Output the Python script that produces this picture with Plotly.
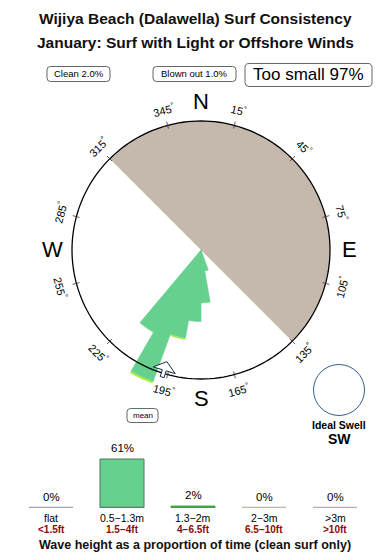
import math
import plotly.graph_objects as go

# ---------------- data ----------------
title_lines = ["Wijiya Beach (Dalawella) Surf Consistency",
               "January: Surf with Light or Offshore Winds"]
clean_pct = 2.0
blown_pct = 1.0
small_pct = 97

# swell rose (directions the swell comes from, 10 degree bins)
rose_dirs = [165, 175, 185, 195, 205, 215]
rose_main = [0.165, 0.41, 0.555, 0.695, 1.085, 0.737]     # 0.5-1.3m share
rose_big = [0.0, 0.0, 0.0, 0.012, 0.015, 0.0]             # 1.3-2m share
offshore_center = 45      # grey wind sector centre
offshore_width = 180
mean_dir = 197
ideal_swell = "SW"

compass_ticks = [15, 45, 75, 105, 135, 165, 195, 225, 255, 285, 315, 345]
cardinals = ["N", "E", "S", "W"]
cardinal_dirs = [0, 90, 180, 270]

height_cats = ["flat", "0.5\u22121.3m", "1.3\u22122m", "2\u22123m", ">3m"]
height_ft = ["<1.5ft", "1.5\u22124ft", "4\u22126.5ft", "6.5\u221210ft", ">10ft"]
height_pct = [0, 61, 2, 0, 0]
height_colors = ["#a0a0bc", "#66d08e", "#4cc04c", "#b0b89e", "#c0a6a6"]
height_edges = ["#a0a0bc", "#4c7a5c", "#3a9a3a", "#b0b89e", "#c0a6a6"]

# ---------------- geometry ----------------
W, H = 390, 560
CX, CY = 201, 310          # compass centre, px from left / bottom
RPX = 129                  # px per radial unit (unit circle)
RMAX = 1.2

def to_paper(bearing, r):
    b = math.radians(bearing)
    return ((CX + r * RPX * math.sin(b)) / W, (CY + r * RPX * math.cos(b)) / H)

fig = go.Figure()

polar_dom_x = [(CX - RMAX * RPX) / W, (CX + RMAX * RPX) / W]
polar_dom_y = [(CY - RMAX * RPX) / H, (CY + RMAX * RPX) / H]

# grey sector
fig.add_trace(go.Barpolar(r=[1], theta=[offshore_center], width=[offshore_width],
                          marker=dict(color="#c5b9ad", line=dict(width=0)),
                          hoverinfo="skip", showlegend=False))
# swell rose
fig.add_trace(go.Barpolar(r=rose_main, theta=rose_dirs, width=[10] * len(rose_dirs),
                          marker=dict(color="#66d08e", line=dict(color="#66d08e", width=0.6)),
                          hoverinfo="skip", showlegend=False))
fig.add_trace(go.Barpolar(r=rose_big, theta=rose_dirs, width=[10] * len(rose_dirs),
                          base=rose_main,
                          marker=dict(color="#9ef040", line=dict(width=0)),
                          hoverinfo="skip", showlegend=False))
# circle
circ_t = list(range(0, 361, 2))
fig.add_trace(go.Scatterpolar(r=[1] * len(circ_t), theta=circ_t, mode="lines",
                              line=dict(color="black", width=1.3),
                              hoverinfo="skip", showlegend=False))
# tick marks
for t in compass_ticks:
    fig.add_trace(go.Scatterpolar(r=[0.975, 1.03], theta=[t, t], mode="lines",
                                  line=dict(color="#333333", width=0.8),
                                  hoverinfo="skip", showlegend=False))

# mean arrow (outline arrow pointing to centre)
def arrow_pts(b, pts):
    out_r, out_t = [], []
    br = math.radians(b)
    ux, uy = math.sin(br), math.cos(br)        # outward unit
    px_, py_ = math.cos(br), -math.sin(br)     # perpendicular
    for rad, lat in pts:
        x = rad * RPX * ux + lat * px_
        y = rad * RPX * uy + lat * py_
        out_r.append(math.hypot(x, y) / RPX)
        out_t.append(math.degrees(math.atan2(x, y)) % 360)
    return out_r, out_t

ar_r, ar_t = arrow_pts(mean_dir, [(0.905, 0), (0.975, 11.5), (0.975, 2), (1.03, 2),
                                  (1.03, -2), (0.975, -2), (0.975, -11.5), (0.905, 0)])
fig.add_trace(go.Scatterpolar(r=ar_r, theta=ar_t, mode="lines", fill="toself",
                              fillcolor="white", line=dict(color="#1a2a44", width=1),
                              hoverinfo="skip", showlegend=False))

fig.update_layout(polar=dict(
    domain=dict(x=polar_dom_x, y=polar_dom_y),
    bgcolor="rgba(0,0,0,0)",
    barmode="overlay",
    radialaxis=dict(range=[0, RMAX], visible=False),
    angularaxis=dict(direction="clockwise", rotation=90, visible=False),
))

ann = []
shapes = []
def add_ann(**kw):
    kw.setdefault("showarrow", False)
    kw.setdefault("xanchor", "center")
    kw.setdefault("yanchor", "middle")
    kw.setdefault("xref", "paper")
    kw.setdefault("yref", "paper")
    ann.append(kw)

def rounded_box(x0, y0, x1, y1, rad=3.5):
    # px from top-left -> paper path with rounded corners
    def P(x, y):
        return f"{x / W:.5f},{1 - y / H:.5f}"
    path = (f"M {P(x0 + rad, y0)} L {P(x1 - rad, y0)} Q {P(x1, y0)} {P(x1, y0 + rad)} "
            f"L {P(x1, y1 - rad)} Q {P(x1, y1)} {P(x1 - rad, y1)} "
            f"L {P(x0 + rad, y1)} Q {P(x0, y1)} {P(x0, y1 - rad)} "
            f"L {P(x0, y0 + rad)} Q {P(x0, y0)} {P(x0 + rad, y0)} Z")
    shapes.append(dict(type="path", xref="paper", yref="paper", path=path,
                       line=dict(color="#555", width=0.9), fillcolor="white", layer="above"))

# tick labels
for t in compass_ticks:
    x, y = to_paper(t, 1.125)
    ang = t if (t <= 90 or t >= 270) else t - 180
    if ang > 180:
        ang -= 360
    add_ann(x=x, y=y, text=f"{t}<sup>\u00b0</sup>", textangle=ang,
            font=dict(size=11, color="black"))
for c, d in zip(cardinals, cardinal_dirs):
    x, y = to_paper(d, 1.155)
    add_ann(x=x, y=y, text=c, font=dict(size=22, color="black"))

# title
add_ann(x=0.5, y=1 - 19 / H, text=f"<b>{title_lines[0]}</b>", font=dict(size=15.5, color="#111"))
add_ann(x=0.5, y=1 - 43 / H, text=f"<b>{title_lines[1]}</b>", font=dict(size=15.5, color="#111"))

# summary boxes
rounded_box(47, 66.5, 110, 81.5)
add_ann(x=78.5 / W, y=1 - 74 / H, text=f"Clean {clean_pct:.1f}%", font=dict(size=9.5, color="black"))
rounded_box(153, 66.5, 236, 81.5)
add_ann(x=194.5 / W, y=1 - 74 / H, text=f"Blown out {blown_pct:.1f}%", font=dict(size=9.5, color="black"))
rounded_box(245, 63.5, 372, 86.5, rad=4)
add_ann(x=308.5 / W, y=1 - 75 / H, text=f"Too small {small_pct}%", font=dict(size=17, color="black"))
# mean label
rounded_box(127, 408.5, 158, 422.5)
add_ann(x=142.5 / W, y=1 - 415.5 / H, text="mean", font=dict(size=8, color="black"))

# ideal swell
ISX, ISY, ISR = 339, 560 - 390, 25.5
shapes.append(dict(type="circle", xref="paper", yref="paper",
                   x0=(ISX - ISR) / W, x1=(ISX + ISR) / W,
                   y0=(ISY - ISR) / H, y1=(ISY + ISR) / H,
                   line=dict(color="#3a5f8a", width=1)))
add_ann(x=ISX / W, y=1 - 425 / H, text="<b>Ideal Swell</b>", font=dict(size=10.5, color="black"))
add_ann(x=ISX / W, y=1 - 439 / H, text=f"<b>{ideal_swell}</b>", font=dict(size=14, color="black"))

# ---------------- height histogram ----------------
BASE = 52.3
YSCALE = 0.798   # px per percent
YR = 70
ax_dom_x = [15.5 / W, 370.5 / W]
ax_dom_y = [BASE / H, (BASE + YR * YSCALE) / H]
idx = list(range(len(height_cats)))
fig.add_trace(go.Bar(x=idx, y=height_pct, width=0.62, xaxis="x2", yaxis="y2",
                     marker=dict(color=height_colors, line=dict(color=height_edges, width=1)),
                     hoverinfo="skip", showlegend=False))
for i, v in enumerate(height_pct):
    shapes.append(dict(type="line", xref="x2", yref="y2", x0=i - 0.31, x1=i + 0.31,
                       y0=0, y1=0, line=dict(color=height_edges[i] if v else height_colors[i], width=2)))
    add_ann(x=i, y=v, xref="x2", yref="y2", yanchor="bottom", yshift=3,
            text=f"{v}%", font=dict(size=11.5, color="black"))
    add_ann(x=i, y=1 - 518 / H, xref="x2", text=height_cats[i], font=dict(size=10.5, color="black"))
    ft = height_ft[i].replace("<", "&lt;").replace(">", "&gt;")
    add_ann(x=i, y=1 - 529.5 / H, xref="x2", text=f"<b>{ft}</b>", font=dict(size=10, color="#8b0a0a"))
add_ann(x=195 / W, y=1 - 545 / H, text="<b>Wave height as a proportion of time (clean surf only)</b>",
        font=dict(size=12.5, color="#111"))

fig.update_layout(
    width=W, height=H, margin=dict(l=0, r=0, t=0, b=0),
    paper_bgcolor="white", plot_bgcolor="white",
    font=dict(family="Liberation Sans, Arial, sans-serif"),
    xaxis2=dict(domain=ax_dom_x, range=[-0.5, 4.5], visible=False, anchor="y2"),
    yaxis2=dict(domain=ax_dom_y, range=[0, YR], visible=False, anchor="x2"),
    annotations=ann, shapes=shapes,
)
fig.write_html("out.html")
